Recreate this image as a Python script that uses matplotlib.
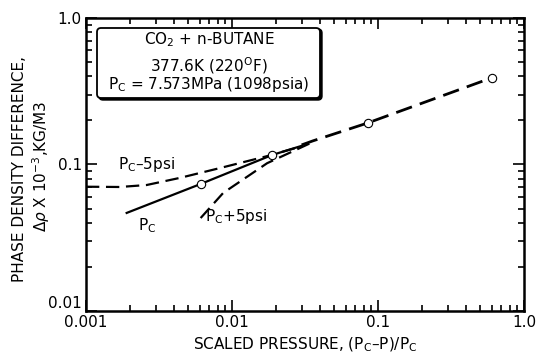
import numpy as np
import matplotlib.pyplot as plt
from matplotlib.patches import FancyBboxPatch

plt.rcParams['font.family'] = ['DejaVu Sans']
plt.rcParams['mathtext.fontset'] = 'dejavusans'

# curves
x_minus = [0.001, 0.0017, 0.0026, 0.0044, 0.0083, 0.0174, 0.03]
y_minus = [0.0705, 0.0702, 0.0724, 0.081, 0.0946, 0.114, 0.133]

x_pc = [0.0019, 0.0061, 0.0188, 0.03]
y_pc = [0.0467, 0.0736, 0.116, 0.134]

x_plus = [0.0061, 0.0087, 0.0174, 0.0359]
y_plus = [0.0431, 0.0639, 0.102, 0.1425]

x_common = [0.03, 0.0359, 0.085, 0.6]
y_common = [0.136, 0.145, 0.192, 0.39]

x_pts = [0.0061, 0.0188, 0.085, 0.6]
y_pts = [0.0736, 0.116, 0.192, 0.39]

fs = 11

fig = plt.figure(figsize=(5.36, 3.59), dpi=100)
ax = fig.add_axes([0.1604, 0.1337, 0.8172, 0.8163])

ax.plot(x_minus, y_minus, color='black', lw=1.6, ls=(0, (6, 3)))
ax.plot(x_pc, y_pc, color='black', lw=1.6)
ax.plot(x_plus, y_plus, color='black', lw=1.6, ls=(0, (6, 3)))
ax.plot(x_common, y_common, color='black', lw=2.0, ls=(0, (6, 3)))
ax.plot(x_pts, y_pts, 'o', ms=6, mfc='white', mec='black', mew=0.8)

ax.set_xscale('log')
ax.set_yscale('log')
ax.set_xlim(0.001, 1.0)
ax.set_ylim(0.01, 1.0)
ax.set_xticks([0.001, 0.01, 0.1, 1.0])
ax.set_xticklabels(['0.001', '0.01', '0.1', '1.0'])
ax.set_yticks([0.01, 0.1, 1.0])
ax.set_yticklabels(['0.01', '0.1', '1.0'])
ax.tick_params(which='both', direction='in', top=True, right=True, labelsize=fs, width=1.2)
ax.tick_params(which='major', length=8, pad=3)
ax.tick_params(which='minor', length=4)
for s in ax.spines.values():
    s.set_linewidth(1.8)
# lift the bottom y label a bit so it clears 0.001
ax.get_yticklabels()[0].set_verticalalignment('bottom')

ax.set_xlabel('SCALED PRESSURE, (P$_\\mathrm{C}$\u2013P)/P$_\\mathrm{C}$', fontsize=fs, labelpad=4)
fig.text(20 / 536, 1 - 169 / 359, 'PHASE DENSITY DIFFERENCE,', rotation=90, ha='center', va='center', fontsize=fs)
fig.text(41 / 536, 1 - 166 / 359, '$\\Delta\\rho$ X 10$^{-3}$,KG/M3', rotation=90, ha='center', va='center', fontsize=fs)

# legend box with shadow
shadow = FancyBboxPatch((99, 259), 223, 71, boxstyle='round,pad=0,rounding_size=4',
                        transform=None, fc='black', ec='black', lw=1.0)
box = FancyBboxPatch((97, 261), 223, 70, boxstyle='round,pad=0,rounding_size=4',
                     transform=None, fc='white', ec='black', lw=1.3)
fig.patches.append(shadow)
fig.patches.append(box)
fig.text(209 / 536, 1 - 40 / 359, 'CO$_2$ + n-BUTANE', ha='center', va='center', fontsize=fs)
fig.text(209 / 536, 1 - 66 / 359, '377.6K (220$^\\mathrm{O}$F)', ha='center', va='center', fontsize=fs)
fig.text(209 / 536, 1 - 85 / 359, 'P$_\\mathrm{C}$ = 7.573MPa (1098psia)', ha='center', va='center', fontsize=fs)

ax.text(0.00166, 0.1, 'P$_\\mathrm{C}$\u20135psi', fontsize=fs, va='center')
ax.text(0.00227, 0.038, 'P$_\\mathrm{C}$', fontsize=fs, va='center')
ax.text(0.0065, 0.044, 'P$_\\mathrm{C}$+5psi', fontsize=fs, va='center')

fig.savefig('out.png', dpi=100)
